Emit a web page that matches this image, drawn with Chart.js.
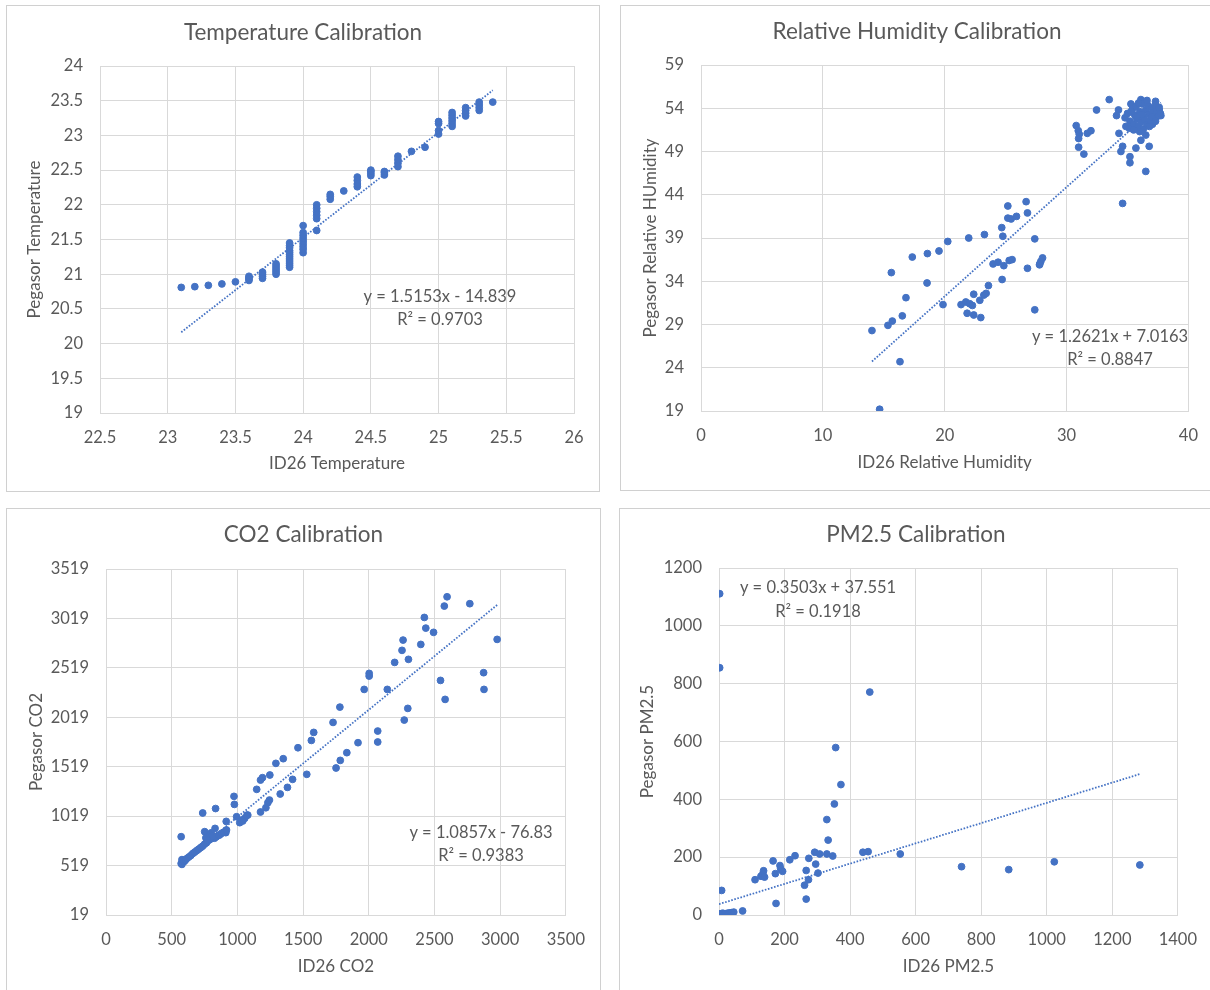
<!DOCTYPE html>
<html>
<head>
<meta charset="utf-8">
<title>Pegasor vs ID26 calibration</title>
<script src="https://cdn.jsdelivr.net/npm/chart.js@4.4.1/dist/chart.umd.min.js"></script>
<style>
  html, body { margin: 0; padding: 0; background: #fff; }
  body { width: 1210px; height: 990px; position: relative; overflow: hidden; }
  .panel { position: absolute; border: 1px solid #d0d0d0; background: #fff; }
  .panel canvas { display: block; }
</style>
</head>
<body>
<div class="panel" id="box-temp"><canvas id="tempChart"></canvas></div>
<div class="panel" id="box-rh"><canvas id="rhChart"></canvas></div>
<div class="panel" id="box-co2"><canvas id="co2Chart"></canvas></div>
<div class="panel" id="box-pm"><canvas id="pmChart"></canvas></div>
<script>
// Temperature readings (ID26 vs Pegasor)
const tempX = [
  23.1, 23.2, 23.3, 23.4, 23.5,
  23.6, 23.6, 23.6, 23.6,
  23.7, 23.7, 23.7, 23.7,
  23.8, 23.8, 23.8, 23.8, 23.8, 23.8,
  23.9, 23.9, 23.9, 23.9, 23.9, 23.9, 23.9, 23.9, 23.9, 23.9, 23.9, 23.9,
  24.0, 24.0, 24.0, 24.0, 24.0, 24.0, 24.0, 24.0, 24.0,
  24.1, 24.1, 24.1, 24.1, 24.1, 24.1,
  24.2, 24.2, 24.2,
  24.3,
  24.4, 24.4, 24.4, 24.4,
  24.5, 24.5, 24.5, 24.5,
  24.6, 24.6, 24.6,
  24.7, 24.7, 24.7, 24.7,
  24.8, 24.9,
  25.0, 25.0, 25.0, 25.0,
  25.1, 25.1, 25.1, 25.1, 25.1, 25.1,
  25.2, 25.2, 25.2, 25.2,
  25.3, 25.3, 25.3, 25.3,
  25.4
];
const tempY = [
  20.81, 20.82, 20.84, 20.86, 20.89,
  20.91, 20.93, 20.95, 20.97,
  20.94, 20.97, 21.0, 21.03,
  21.0, 21.03, 21.06, 21.09, 21.12, 21.15,
  21.1, 21.13, 21.16, 21.19, 21.22, 21.25, 21.28, 21.31, 21.34, 21.38, 21.41, 21.45,
  21.31, 21.36, 21.4, 21.44, 21.48, 21.52, 21.56, 21.6, 21.7,
  21.63, 21.8, 21.85, 21.9, 21.95, 22.0,
  22.08, 22.12, 22.15,
  22.2,
  22.26, 22.3, 22.35, 22.4,
  22.42, 22.45, 22.48, 22.5,
  22.43, 22.46, 22.48,
  22.55, 22.6, 22.65, 22.7,
  22.77, 22.83,
  23.02, 23.07, 23.17, 23.2,
  23.13, 23.17, 23.21, 23.25, 23.29, 23.33,
  23.28, 23.32, 23.36, 23.4,
  23.36, 23.4, 23.44, 23.48,
  23.48
];

// Relative humidity readings
const rhX = [
  14.03, 14.66, 15.34, 15.7, 15.62, 16.33, 16.52, 16.82, 17.34, 18.58, 18.55, 19.53, 19.86, 20.25,
  21.97, 23.26, 21.34, 21.73, 22.05, 22.38, 22.27, 21.84, 22.38, 22.96, 22.88, 23.21, 23.4, 23.59,
  23.97, 24.38, 24.85, 24.71, 24.68, 24.77, 25.18, 25.18, 25.45, 25.89, 25.29, 25.53, 26.68, 26.79,
  26.79, 27.39, 27.39, 27.78, 27.89, 28.03, 27.8,
  30.79, 30.96, 31.04, 30.99, 30.99, 31.42, 31.7, 32.0, 32.46, 33.5, 34.6, 34.26, 34.1, 35.28,
  36.1, 37.3, 37.6, 37.74, 37.05, 34.87, 35.14, 34.3, 34.6, 34.46, 35.69, 36.1, 36.5, 36.78,
  35.2, 35.2, 36.5,
  34.8, 35.0, 35.2, 35.4, 35.5, 35.6, 35.7, 35.8, 35.9, 36.0, 36.1, 36.2, 36.3, 36.3, 36.4,
  36.5, 36.6, 36.7, 36.8, 36.9, 37.0, 37.1, 37.2, 37.3, 37.4, 37.5, 37.6, 37.7, 35.3, 35.9,
  36.6, 37.0, 36.0, 35.5, 36.8, 36.2, 35.7, 37.3
];
const rhY = [
  28.3, 19.2, 28.9, 29.4, 35.0, 24.7, 30.0, 32.1, 36.8, 37.2, 33.8, 37.5, 31.3, 38.6,
  39.0, 39.4, 31.3, 31.6, 31.4, 32.5, 31.2, 30.3, 30.1, 29.8, 31.8, 32.4, 32.6, 33.5,
  36.0, 36.2, 35.8, 34.2, 40.2, 39.2, 42.7, 41.3, 41.2, 41.5, 36.4, 36.5, 43.2, 41.9,
  35.5, 38.9, 30.7, 35.9, 36.3, 36.7, 36.0,
  52.0, 51.4, 51.0, 50.5, 49.5, 48.7, 51.1, 51.4, 53.8, 55.0, 43.0, 53.8, 53.15, 54.5,
  55.0, 54.8, 53.8, 53.15, 52.15, 51.9, 51.7, 51.1, 49.6, 49.0, 49.4, 50.3, 50.9, 49.6,
  48.4, 47.7, 46.7,
  52.9, 53.4, 52.5, 53.9, 52.2, 53.2, 54.2, 52.8, 51.9, 53.6, 52.4, 54.5, 53.0, 51.6, 52.7,
  53.8, 52.1, 54.3, 53.3, 52.6, 54.0, 53.5, 52.9, 54.4, 53.7, 53.1, 54.1, 53.4, 53.6, 54.6,
  54.9, 53.0, 51.3, 51.5, 51.9, 53.3, 53.0, 52.5
];

// CO2 readings
const co2X = [
  2596, 2575, 2769, 2423, 2434, 2493, 2396, 2261, 2253, 2302, 2197, 2977, 2874, 2877, 2546, 2581,
  2003, 2003, 1965, 2141, 2297, 2270, 1780, 1728, 1581, 1563, 2068, 2068, 1918, 1833, 1783, 1751,
  1461, 1349, 1293, 1528, 1420, 1381, 1326, 1247, 1191, 1176, 1147, 1244, 1232, 1217, 1176,
  974, 977, 1079, 1056, 1041, 1018, 994, 915, 834, 736, 572,
  912, 830, 751, 1034, 1073,
  572, 578, 578, 587, 595, 605, 615, 630, 645, 660, 675, 690, 705, 720, 735, 750, 765, 775,
  787, 800, 815, 826, 840, 855, 865, 880, 895, 904, 917, 760, 790, 800, 810, 770
];
const co2Y = [
  3238, 3144, 3168, 3029, 2921, 2878, 2756, 2800, 2696, 2605, 2574, 2807, 2470, 2301, 2392, 2200,
  2463, 2436, 2301, 2301, 2109, 1991, 2122, 1967, 1866, 1785, 1880, 1769, 1762, 1661, 1583, 1506,
  1711, 1600, 1553, 1442, 1391, 1310, 1243, 1435, 1408, 1384, 1290, 1182, 1155, 1104, 1061,
  1219, 1138, 1030, 997, 970, 953, 1013, 966, 1096, 1051, 811,
  852, 895, 862, 979, 1029,
  540, 531, 579, 575, 560, 575, 590, 605, 620, 640, 655, 670, 685, 700, 715, 735, 750, 770,
  779, 790, 800, 796, 810, 825, 829, 845, 855, 862, 879, 800, 830, 850, 820, 780
];

// PM2.5 readings
const pmX = [
  2, 2, 8, 0, 2, 4, 6, 8, 10, 12, 15, 18, 22, 27, 32, 38, 45, 72,
  110, 128, 134, 136, 139, 165, 172, 186, 188, 194, 174, 216, 232, 261, 266, 266, 273, 274,
  292, 295, 302, 307, 329, 333, 329, 347, 352, 356, 372, 439, 455, 460, 553, 740, 884, 1023, 1284
];
const pmY = [
  1111, 855, 85, 1, 2, 4, 1, 5, 3, 6, 4, 3, 5, 6, 7, 8, 10, 14,
  122, 134, 143, 153, 131, 187, 143, 171, 160, 151, 40, 191, 205, 103, 154, 55, 122, 196,
  217, 176, 145, 211, 330, 259, 211, 204, 384, 579, 451, 217, 219, 771, 211, 167, 157, 184, 173
];

// Linear fits reported for each pair
const tempFit = { slope: 1.5153, intercept: -14.839, r2: '0.9703' };
const rhFit = { slope: 1.2621, intercept: 7.0163, r2: '0.8847' };
const co2Fit = { slope: 1.0857, intercept: -76.83, r2: '0.9383' };
const pmFit = { slope: 0.3503, intercept: 37.551, r2: '0.1918' };

const BLUE = '#4472C4';
const TEXT = '#595959';
const GRID = '#d9d9d9';
const FONT = 'Lato, "Open Sans", sans-serif';

function fitLabel(fit) {
  const sign = fit.intercept < 0 ? ' - ' : ' + ';
  return 'y = ' + fit.slope + 'x' + sign + Math.abs(fit.intercept);
}

// panel heading, centred on the whole panel rather than the plot
const headingPlugin = {
  id: 'heading',
  afterDraw(chart, args, opts) {
    const ctx = chart.ctx;
    ctx.save();
    ctx.font = '22.5px ' + FONT;
    ctx.fillStyle = TEXT;
    ctx.textAlign = 'center';
    ctx.textBaseline = 'middle';
    ctx.fillText(opts.text, chart.width / 2, opts.y);
    ctx.restore();
  }
};

// writes the fit equation and R² in two centred lines
const equationPlugin = {
  id: 'equation',
  afterDatasetsDraw(chart, args, opts) {
    const ctx = chart.ctx;
    ctx.save();
    ctx.font = '16.5px ' + FONT;
    ctx.fillStyle = TEXT;
    ctx.textAlign = 'center';
    ctx.textBaseline = 'middle';
    ctx.fillText(opts.line1, opts.x, opts.y1);
    ctx.fillText(opts.line2, opts.x, opts.y2);
    ctx.restore();
  }
};

function makeChart(p) {
  const box = document.getElementById(p.box);
  box.style.left = p.frame.left + 'px';
  box.style.top = p.frame.top + 'px';
  box.style.width = p.frame.width + 'px';
  box.style.height = p.frame.height + 'px';

  const ox = p.frame.left + 1, oy = p.frame.top + 1;
  const W = p.frame.width, H = p.frame.height;
  const canvas = document.getElementById(p.canvas);
  canvas.width = W;
  canvas.height = H;

  const left = p.plot.left - ox, right = p.plot.right - ox;
  const top = p.plot.top - oy, bottom = p.plot.bottom - oy;
  const axisFont = { family: FONT, size: 17, lineHeight: 1.2 };

  const points = p.xs.map((x, i) => ({ x: x, y: p.ys[i] }));
  const x0 = Math.min(...p.xs), x1 = Math.max(...p.xs);
  const trend = [x0, x1].map(x => ({ x: x, y: p.fit.slope * x + p.fit.intercept }));

  const plain = v => String(Math.round(v * 100) / 100);

  return new Chart(canvas.getContext('2d'), {
    type: 'scatter',
    data: {
      datasets: [
        {
          data: points,
          backgroundColor: BLUE,
          borderColor: BLUE,
          borderWidth: 1,
          pointRadius: 3.4,
          pointHoverRadius: 3.4
        },
        {
          type: 'line',
          data: trend,
          borderColor: BLUE,
          borderWidth: 1.8,
          borderDash: [1.6, 1.6],
          pointRadius: 0,
          fill: false
        }
      ]
    },
    options: {
      responsive: false,
      animation: false,
      events: [],
      layout: { padding: { left: 0, right: W - right, top: top, bottom: 0 } },
      plugins: {
        legend: { display: false },
        tooltip: { enabled: false },
        title: { display: false },
        heading: { text: p.title, y: p.titleY - oy },
        equation: {
          line1: fitLabel(p.fit),
          line2: 'R² = ' + p.fit.r2,
          x: p.eq.x - ox, y1: p.eq.y1 - oy, y2: p.eq.y2 - oy
        }
      },
      scales: {
        x: {
          type: 'linear',
          min: p.xTicks.min, max: p.xTicks.max,
          afterFit: s => { s.height = H - bottom; },
          ticks: {
            stepSize: p.xTicks.step, color: TEXT, padding: 15,
            font: { family: FONT, size: 16.5 }, callback: plain
          },
          grid: { color: GRID, lineWidth: 1, drawTicks: false },
          border: { color: GRID, width: 1 },
          title: {
            display: true, text: p.xTitle, color: TEXT, font: axisFont,
            padding: { top: 0, bottom: H - (p.xTitleY - oy) - 10.2 }
          }
        },
        y: {
          type: 'linear',
          min: p.yTicks.min, max: p.yTicks.max,
          afterFit: s => { s.width = left; },
          ticks: {
            stepSize: p.yTicks.step, color: TEXT, padding: 17,
            font: { family: FONT, size: 16.5 }, callback: plain
          },
          grid: { color: GRID, lineWidth: 1, drawTicks: false },
          border: { color: GRID, width: 1 },
          title: {
            display: true, text: p.yTitle, color: TEXT, font: axisFont,
            padding: { top: (p.yTitleX - ox) - 10.2, bottom: 0 }
          }
        }
      }
    },
    plugins: [headingPlugin, equationPlugin]
  });
}

makeChart({
  box: 'box-temp', canvas: 'tempChart',
  frame: { left: 6, top: 5, width: 592, height: 485 },
  plot: { left: 100, right: 574, top: 66, bottom: 413 },
  titleY: 33, xTitleY: 464, yTitleX: 35,
  eq: { x: 440, y1: 297, y2: 320 },
  title: 'Temperature Calibration',
  xTitle: 'ID26 Temperature', yTitle: 'Pegasor Temperature',
  xTicks: { min: 22.5, max: 26, step: 0.5 },
  yTicks: { min: 19, max: 24, step: 0.5 },
  xs: tempX, ys: tempY, fit: tempFit
});

makeChart({
  box: 'box-rh', canvas: 'rhChart',
  frame: { left: 620, top: 5, width: 592, height: 484 },
  plot: { left: 701, right: 1189, top: 65, bottom: 411 },
  titleY: 31.5, xTitleY: 462.5, yTitleX: 651,
  eq: { x: 1110, y1: 337, y2: 360 },
  title: 'Relative Humidity Calibration',
  xTitle: 'ID26 Relative Humidity', yTitle: 'Pegasor Relative HUmidity',
  xTicks: { min: 0, max: 40, step: 10 },
  yTicks: { min: 19, max: 59, step: 5 },
  xs: rhX, ys: rhY, fit: rhFit
});

makeChart({
  box: 'box-co2', canvas: 'co2Chart',
  frame: { left: 6, top: 508, width: 593, height: 490 },
  plot: { left: 106, right: 567, top: 569, bottom: 915 },
  titleY: 535, xTitleY: 966.5, yTitleX: 37,
  eq: { x: 481, y1: 833, y2: 856 },
  title: 'CO2 Calibration',
  xTitle: 'ID26 CO2', yTitle: 'Pegasor CO2',
  xTicks: { min: 0, max: 3500, step: 500 },
  yTicks: { min: 19, max: 3519, step: 500 },
  xs: co2X, ys: co2Y, fit: co2Fit
});

makeChart({
  box: 'box-pm', canvas: 'pmChart',
  frame: { left: 619, top: 508, width: 592, height: 490 },
  plot: { left: 719, right: 1178, top: 568, bottom: 915 },
  titleY: 535, xTitleY: 966.5, yTitleX: 648,
  eq: { x: 818, y1: 588, y2: 611.5 },
  title: 'PM2.5 Calibration',
  xTitle: 'ID26 PM2.5', yTitle: 'Pegasor PM2.5',
  xTicks: { min: 0, max: 1400, step: 200 },
  yTicks: { min: 0, max: 1200, step: 200 },
  xs: pmX, ys: pmY, fit: pmFit
});
</script>
</body>
</html>
